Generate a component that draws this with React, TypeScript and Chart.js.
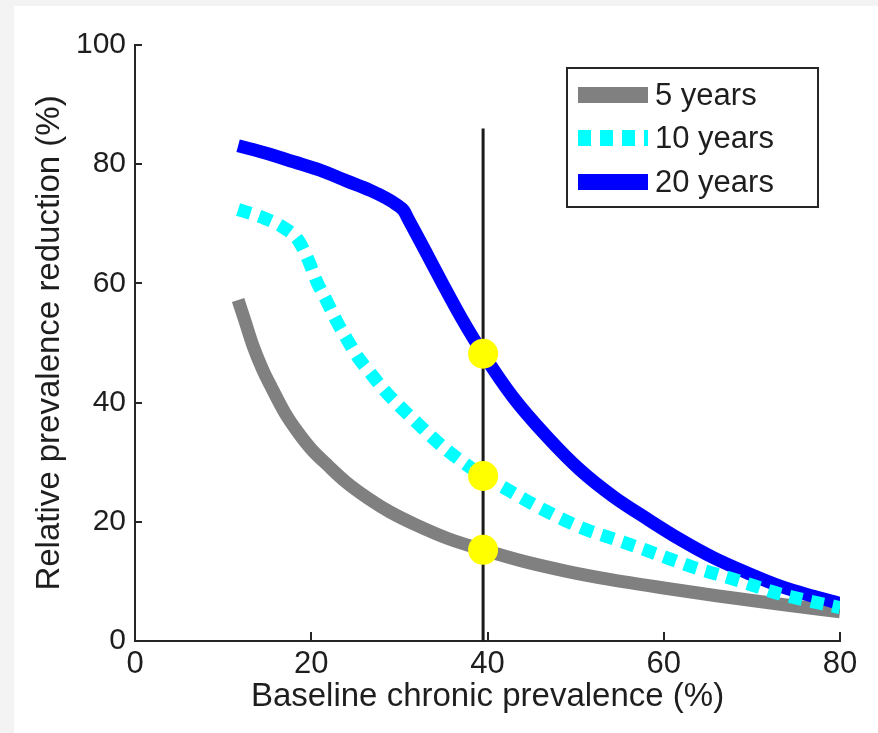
import React, { useEffect, useRef } from 'react';
import { Chart, registerables } from 'chart.js';

Chart.register(...registerables);

// ---- data ----
const xTickValues = [0, 20, 40, 60, 80];
const yTickValues = [0, 20, 40, 60, 80, 100];

const seriesLabels = ['5 years', '10 years', '20 years'];

const fiveYearX = [11.7, 12.5, 13.4, 14.5, 15.5, 17, 18.5, 20, 22, 24, 26.5, 29, 32, 35.5, 39.5, 44, 49, 54, 60, 66, 73, 80];
const fiveYearY = [57.2, 53.6, 49.5, 45.5, 42.5, 38.3, 35.0, 32.2, 29.3, 26.6, 23.9, 21.6, 19.4, 17.2, 15.3, 13.4, 11.7, 10.3, 8.9, 7.6, 6.2, 4.9];

const tenYearX = [11.7, 14.4, 16.7, 18.5, 19.7, 20.6, 21.8, 22.9, 24.1, 25.3, 26.9, 28.4, 30.1, 32, 33.7, 35.5, 39.5, 41.8, 46, 50.5, 55.4, 58.8, 63.3, 68.3, 73.2, 80];
const tenYearY = [72.4, 71.1, 69.5, 67.3, 63.8, 60.4, 56.9, 53.6, 50.5, 47.6, 44.6, 41.9, 39.3, 36.6, 34.2, 31.9, 27.7, 25.8, 22.3, 19.1, 16.6, 14.8, 12.4, 10.2, 7.9, 5.6];

const twentyYearX = [11.7, 15, 18, 21, 24, 26.7, 28.5, 29.7, 30.5, 31, 33, 35, 37, 39.5, 42.9, 46.8, 50.5, 54.3, 58.1, 61.9, 65.6, 69.5, 73.2, 77, 80];
const twentyYearY = [83.1, 81.8, 80.4, 79, 77.2, 75.6, 74.3, 73.2, 72.2, 70.8, 65.3, 59.7, 54.3, 48.2, 40.9, 34.2, 28.7, 24.2, 20.5, 17, 14, 11.4, 9.2, 7.5, 6.3];

const markerX = 39.5;
const markerY = [48.2, 27.7, 15.3];
const refLineY = [0, 86];

const xAxisTitle = 'Baseline chronic prevalence (%)';
const yAxisTitle = 'Relative prevalence reduction (%)';

// ---- styles ----
const FONT = "'Liberation Sans', Arial, Helvetica, sans-serif";
const AXIS_COLOR = '#262626';
const TEXT_COLOR = '#1e1e1e';
const GRAY = '#808080';
const CYAN = '#00ffff';
const BLUE = '#0000ff';
const DASH = [13, 9];

const zip = (xs: number[], ys: number[]) => xs.map((x, i) => ({ x, y: ys[i] }));

const legendItems = [
  { label: seriesLabels[0], color: GRAY, dash: [] as number[] },
  { label: seriesLabels[1], color: CYAN, dash: DASH },
  { label: seriesLabels[2], color: BLUE, dash: [] as number[] },
];

const backgroundPlugin = {
  id: 'figBackground',
  beforeDraw(chart: any) {
    const { ctx, width, height } = chart;
    ctx.save();
    ctx.fillStyle = '#f3f3f3';
    ctx.fillRect(0, 0, width, height);
    ctx.fillStyle = '#ffffff';
    ctx.fillRect(14, 6, width - 14, height - 6);
    ctx.restore();
  },
};

const inwardTicksPlugin = {
  id: 'inwardTicks',
  afterDraw(chart: any) {
    const { ctx, chartArea, scales } = chart;
    ctx.save();
    ctx.strokeStyle = AXIS_COLOR;
    ctx.lineWidth = 2;
    ctx.beginPath();
    xTickValues.forEach((v) => {
      const px = Math.round(scales.x.getPixelForValue(v));
      ctx.moveTo(px, chartArea.bottom);
      ctx.lineTo(px, chartArea.bottom - 9);
    });
    yTickValues.forEach((v) => {
      const py = Math.round(scales.y.getPixelForValue(v));
      ctx.moveTo(chartArea.left, py);
      ctx.lineTo(chartArea.left + 7, py);
    });
    ctx.stroke();
    ctx.restore();
  },
};

const legendPlugin = {
  id: 'boxLegend',
  afterDraw(chart: any) {
    const { ctx, chartArea } = chart;
    const w = 251;
    const h = 139;
    const left = chartArea.right - 22 - w;
    const top = chartArea.top + 23;
    ctx.save();
    ctx.fillStyle = '#ffffff';
    ctx.fillRect(left, top, w, h);
    ctx.strokeStyle = AXIS_COLOR;
    ctx.lineWidth = 2;
    ctx.strokeRect(left, top, w, h);
    const rows = [27, 70, 114];
    legendItems.forEach((item, i) => {
      const cy = top + rows[i];
      ctx.beginPath();
      ctx.setLineDash(item.dash);
      ctx.lineCap = 'butt';
      ctx.strokeStyle = item.color;
      ctx.lineWidth = 16;
      ctx.moveTo(left + 11, cy);
      ctx.lineTo(left + 81, cy);
      ctx.stroke();
      ctx.setLineDash([]);
      ctx.fillStyle = TEXT_COLOR;
      ctx.font = `31px ${FONT}`;
      ctx.textAlign = 'left';
      ctx.textBaseline = 'middle';
      ctx.fillText(item.label, left + 88, cy + 1);
    });
    ctx.restore();
  },
};

export default function App() {
  const canvasRef = useRef<HTMLCanvasElement | null>(null);

  useEffect(() => {
    if (!canvasRef.current) return;
    const curve = (label: string, xs: number[], ys: number[], color: string, order: number, dash: number[] = []) => ({
      label,
      data: zip(xs, ys),
      showLine: true,
      borderColor: color,
      backgroundColor: color,
      borderWidth: 13,
      borderDash: dash,
      borderCapStyle: 'butt',
      borderJoinStyle: 'round',
      cubicInterpolationMode: 'monotone',
      pointRadius: 0,
      pointHoverRadius: 0,
      fill: false,
      order,
    });

    const chart = new Chart(canvasRef.current, {
      type: 'scatter',
      data: {
        datasets: [
          {
            label: 'markers',
            data: markerY.map((y) => ({ x: markerX, y })),
            showLine: false,
            pointRadius: 15,
            pointHoverRadius: 15,
            pointBackgroundColor: '#ffff00',
            pointBorderWidth: 0,
            pointBorderColor: '#ffff00',
            order: 1,
          },
          {
            label: 'reference',
            data: refLineY.map((y) => ({ x: markerX, y })),
            showLine: true,
            borderColor: '#1a1a1a',
            borderWidth: 3,
            pointRadius: 0,
            pointHoverRadius: 0,
            order: 2,
          },
          curve(seriesLabels[1], tenYearX, tenYearY, CYAN, 3, DASH),
          curve(seriesLabels[2], twentyYearX, twentyYearY, BLUE, 4),
          curve(seriesLabels[0], fiveYearX, fiveYearY, GRAY, 5),
        ] as any,
      },
      options: {
        responsive: false,
        animation: false,
        events: [],
        layout: { padding: { left: 0, right: 38, top: 45, bottom: 0 } },
        plugins: {
          legend: { display: false },
          tooltip: { enabled: false },
          title: { display: false },
        },
        scales: {
          x: {
            type: 'linear',
            min: 0,
            max: 80,
            afterBuildTicks: (scale: any) => {
              scale.ticks = xTickValues.map((value) => ({ value }));
            },
            grid: { display: false, drawTicks: false },
            border: { display: true, color: AXIS_COLOR, width: 2 },
            ticks: {
              padding: 5,
              color: TEXT_COLOR,
              font: { family: FONT, size: 31 },
              maxRotation: 0,
              autoSkip: false,
            },
            title: {
              display: true,
              text: xAxisTitle,
              color: TEXT_COLOR,
              font: { family: FONT, size: 33 },
              padding: { top: 0, bottom: 16 },
            },
            afterFit: (scale: any) => {
              scale.height = 92;
            },
          },
          y: {
            type: 'linear',
            min: 0,
            max: 100,
            afterBuildTicks: (scale: any) => {
              scale.ticks = yTickValues.map((value) => ({ value }));
            },
            grid: { display: false, drawTicks: false },
            border: { display: true, color: AXIS_COLOR, width: 2 },
            ticks: {
              padding: 9,
              color: TEXT_COLOR,
              font: { family: FONT, size: 30 },
              autoSkip: false,
            },
            title: {
              display: true,
              text: yAxisTitle,
              color: TEXT_COLOR,
              font: { family: FONT, size: 33 },
              padding: { top: 30, bottom: 0 },
            },
            afterFit: (scale: any) => {
              scale.width = 135;
            },
          },
        },
      } as any,
      plugins: [backgroundPlugin, inwardTicksPlugin, legendPlugin],
    });
    return () => chart.destroy();
  }, []);

  return (
    <div style={{ position: 'fixed', left: 0, top: 0, width: 878, height: 733, overflow: 'hidden' }}>
      <canvas ref={canvasRef} width={878} height={733} style={{ display: 'block', width: 878, height: 733 }} />
    </div>
  );
}
